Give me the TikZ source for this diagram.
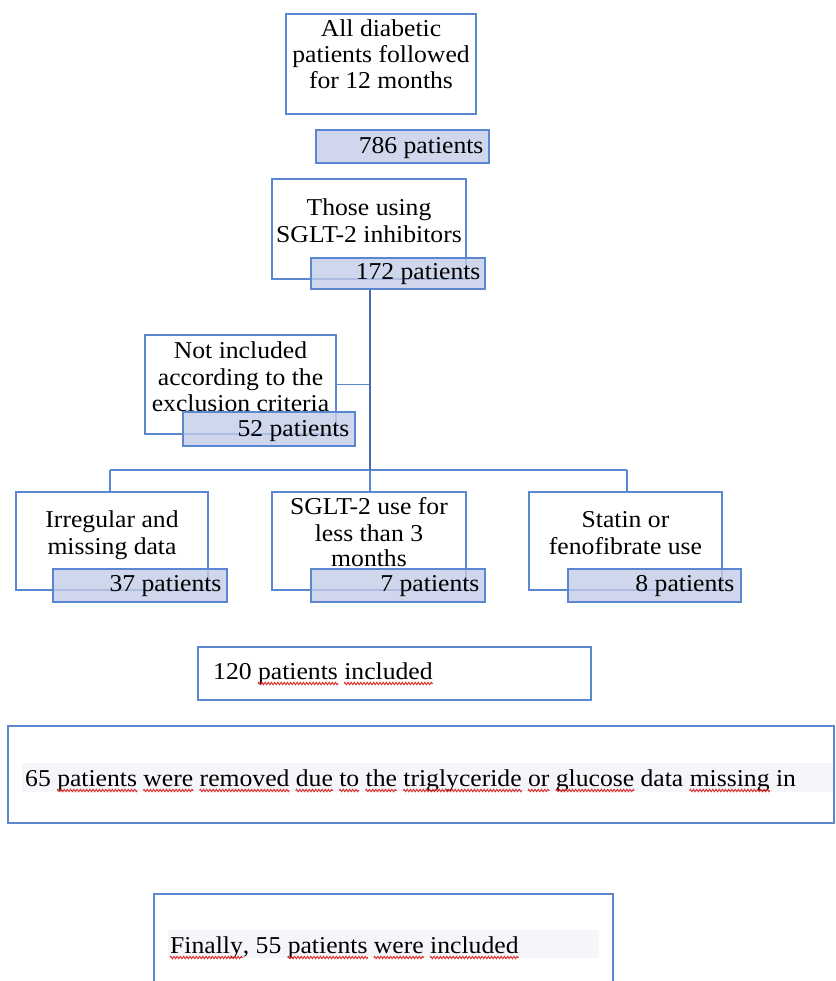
\documentclass[tikz,border=0pt]{standalone}
\usepackage{fontspec}
\usetikzlibrary{decorations.pathmorphing}
\setmainfont{Liberation Serif}[FakeStretch=1.06]
\definecolor{bordc}{RGB}{90,134,210}
\definecolor{fillc}{RGB}{196,205,232}
\definecolor{linec}{RGB}{70,105,178}
\definecolor{stripc}{RGB}{245,246,249}
\definecolor{squig}{RGB}{225,40,40}
\newcommand{\sqw}[1]{\tikz[baseline=(w.base)]{\node[inner sep=0pt, anchor=base] (w) at (0,0) {#1}; \draw[overlay, squig, line width=0.9pt, decorate, decoration={zigzag, amplitude=1.2pt, segment length=3.2pt}] ([yshift=-4.5pt]w.base west) -- ([yshift=-4.5pt]w.base east);}}
\begin{document}
\begin{tikzpicture}[x=1pt,y=1pt,
  bx/.style={draw=bordc, line width=1.3pt, fill=white, inner sep=0pt},
  nb/.style={draw=bordc, line width=1.3pt, fill=fillc, fill opacity=0.8, inner sep=0pt},
  tx/.style={anchor=base, inner sep=0pt, font=\fontsize{24.2}{26}\selectfont},
  tr/.style={anchor=base east, inner sep=0pt, font=\fontsize{24.2}{26}\selectfont},
  tl/.style={anchor=base west, inner sep=0pt, font=\fontsize{24.2}{26}\selectfont},
  conn/.style={draw=bordc, line width=1.3pt},
  trunk/.style={draw=linec, line width=2.4pt}]
\clip (0,0) rectangle (835,-981);
\useasboundingbox (0,0) rectangle (835,-981);

% main boxes
\node[bx, minimum width=190, minimum height=100] (top) at (381,-64) {};
\node[bx, minimum width=194, minimum height=100] (those) at (369,-229) {};
\node[bx, minimum width=191, minimum height=99] (notinc) at (240.5,-384.5) {};
\node[bx, minimum width=192, minimum height=98] (irr) at (112,-541) {};
\node[bx, minimum width=194, minimum height=98] (sglt) at (369,-541) {};
\node[bx, minimum width=193, minimum height=98] (stat) at (625.5,-541) {};
\node[bx, minimum width=393, minimum height=53] (inc) at (394.5,-673.5) {};
\node[bx, minimum width=826, minimum height=97] (rem) at (421,-774.5) {};
\node[bx, minimum width=459, minimum height=116] (fin) at (383.5,-952) {};

% light strips behind the text lines
\fill[stripc] (22,-763) rectangle (833,-792);
\fill[stripc] (168,-930) rectangle (599,-958);

% texts of main boxes
\node[tx] (t1a) at (381,-37) {All diabetic};
\node[tx] (t1b) at (381,-63) {patients followed};
\node[tx] (t1c) at (381,-89) {for 12 months};
\node[tx] (t2a) at (369,-216) {Those using};
\node[tx] (t2b) at (369,-243) {SGLT-2 inhibitors};
\node[tx] (t3a) at (240.5,-358) {Not included};
\node[tx] (t3b) at (240.5,-385) {according to the};
\node[tx] (t3c) at (240.5,-411) {exclusion criteria};
\node[tx] (t4a) at (112,-527) {Irregular and};
\node[tx] (t4b) at (112,-554) {missing data};
\node[tx] (t5a) at (369,-514) {SGLT-2 use for};
\node[tx] (t5b) at (369,-541) {less than 3};
\node[tx] (t5c) at (369,-566) {months};
\node[tx] (t6a) at (625.5,-527) {Statin or};
\node[tx] (t6b) at (625.5,-554) {fenofibrate use};
\node[tl] (t7) at (213,-679) {120 \sqw{patients} \sqw{included}};
\node[tl] (t8) at (25,-786) {65 \sqw{patients} \sqw{were} \sqw{removed} \sqw{due} \sqw{to} \sqw{the} \sqw{triglyceride} \sqw{or} \sqw{glucose} data \sqw{missing} in};
\node[tl] (t9) at (170,-953) {\sqw{Finally}, 55 \sqw{patients} \sqw{were} \sqw{included}};

% number boxes
\node[nb, minimum width=173, minimum height=33] (n786) at (402.5,-146.5) {};
\node[nb, minimum width=174, minimum height=31] (n172) at (398,-273.5) {};
\node[nb, minimum width=172, minimum height=34] (n52) at (269,-429) {};
\node[nb, minimum width=174, minimum height=33] (n37) at (140,-585.5) {};
\node[nb, minimum width=174, minimum height=33] (n7) at (398,-585.5) {};
\node[nb, minimum width=173, minimum height=33] (n8) at (654.5,-585.5) {};

\node[tr] (l786) at ([xshift=-6,yshift=10]n786.south east) {786 patients};
\node[tr] (l172) at ([xshift=-5,yshift=10]n172.south east) {172 patients};
\node[tr] (l52) at ([xshift=-6,yshift=10]n52.south east) {52 patients};
\node[tr] (l37) at ([xshift=-6,yshift=11]n37.south east) {37 patients};
\node[tr] (l7) at ([xshift=-6,yshift=11]n7.south east) {7 patients};
\node[tr] (l8) at ([xshift=-7,yshift=11]n8.south east) {8 patients};

% connectors
\coordinate (j) at (370,-470);
\coordinate (jl) at (110,-470);
\coordinate (jr) at (627,-470);
\draw[conn] (notinc.east) -- (notinc.east -| j);
\draw[conn] (jl) -- (jr);
\draw[conn] (jl) -- (irr.north -| jl);
\draw[conn] (j) -- (sglt.north -| j);
\draw[conn] (jr) -- (stat.north -| jr);
\draw[trunk] (n172.south -| j) -- (j);
\end{tikzpicture}
\end{document}
